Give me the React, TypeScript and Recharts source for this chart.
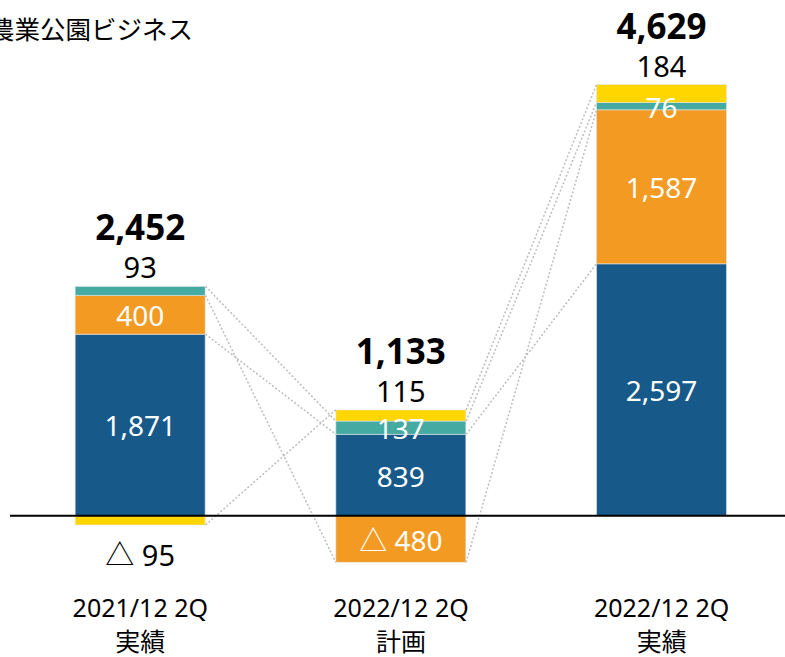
import { ComposedChart, Bar, XAxis, YAxis, ReferenceLine, LabelList } from "recharts";

const FONT = "'Noto Sans', 'Noto Sans CJK JP', sans-serif";

const title = "農業公園ビジネス";
const periods = ["2021/12 2Q", "2022/12 2Q", "2022/12 2Q"];
const periodKinds = ["実績", "計画", "実績"];

// stacked segments, bottom to top
const blueValues = [1871, 839, 2597];
const orangeValues = [400, -480, 1587];
const tealValues = [93, 137, 76];
const yellowValues = [-95, 115, 184];
const totals = [2452, 1133, 4629];

const seriesKeys = ["blue", "orange", "teal", "yellow"];
const seriesValues = [blueValues, orangeValues, tealValues, yellowValues];
const seriesColors = ["#175a8a", "#f29a22", "#45aaa2", "#ffd600"];

const GAP = 0.25; // barCategoryGap as fraction of the band

const data = periods.map((p, i) => {
  const row: Record<string, any> = { period: p, pos: i + 0.5 };
  seriesKeys.forEach((k, s) => (row[k] = seriesValues[s][i]));
  return row;
});

const fmt = (v: number) =>
  v < 0 ? "△ " + Math.abs(v).toLocaleString("en-US") : v.toLocaleString("en-US");

// outer edge of a segment in the sign-stacked bar
function edgeOf(s: number, i: number) {
  const v = seriesValues[s][i];
  let sum = 0;
  for (let k = 0; k <= s; k++) {
    const w = seriesValues[k][i];
    if (w >= 0 === v >= 0) sum += w;
  }
  return sum;
}

function isOutermost(s: number, i: number) {
  const v = seriesValues[s][i];
  for (let k = s + 1; k < seriesValues.length; k++) {
    const w = seriesValues[k][i];
    if (w !== 0 && w >= 0 === v >= 0) return false;
  }
  return true;
}

const connectors: { x1: number; y1: number; x2: number; y2: number }[] = [];
for (let i = 0; i < periods.length - 1; i++) {
  for (let s = 0; s < seriesValues.length; s++) {
    connectors.push({ x1: i + 1 - GAP, y1: edgeOf(s, i), x2: i + 1 + GAP, y2: edgeOf(s, i + 1) });
  }
}

function makeLabel(s: number) {
  return (props: any) => {
    const vb = props.viewBox ?? {};
    const x = Number(vb.x ?? props.x);
    const y = Number(vb.y ?? props.y);
    const w = Number(vb.width ?? props.width);
    const h = Number(vb.height ?? props.height);
    const i = props.index;
    const v = seriesValues[s][i];
    const top = Math.min(y, y + h);
    const bottom = Math.max(y, y + h);
    const cx = x + w / 2;
    const small = Math.abs(h) < 20;
    if (small && isOutermost(s, i) && v > 0) {
      return (
        <g>
          <text x={cx} y={top - 8} textAnchor="middle" fontSize={29} fill="#000" fontFamily={FONT}>
            {fmt(v)}
          </text>
          <text x={cx} y={top - 46} textAnchor="middle" fontSize={35} fontWeight="bold" fill="#000" fontFamily={FONT}>
            {fmt(totals[i])}
          </text>
        </g>
      );
    }
    if (small && isOutermost(s, i) && v < 0) {
      return (
        <text x={cx} y={bottom + 41} textAnchor="middle" fontSize={29} fill="#000" fontFamily={FONT}>
          {fmt(v)}
        </text>
      );
    }
    return (
      <text x={cx} y={(top + bottom) / 2 + 11.5} textAnchor="middle" fontSize={28} fill="#fff" fontFamily={FONT}>
        {fmt(v)}
      </text>
    );
  };
}

const PeriodTick = (props: any) => {
  const { x, y, payload } = props;
  const i = payload.index;
  return (
    <g>
      <text x={x} y={y + 43} textAnchor="middle" fontSize={25} fill="#000" fontFamily={FONT}>
        {periods[i]}
      </text>
      <text x={x} y={y + 77} textAnchor="middle" fontSize={25} fill="#000" fontFamily={FONT}>
        {periodKinds[i]}
      </text>
    </g>
  );
};

export default function App() {
  return (
    <div style={{ position: "relative", width: 785, height: 657, overflow: "hidden", fontFamily: FONT }}>
      <style>{"body{margin:0;overflow:hidden}"}</style>
      <div
        style={{
          position: "absolute",
          left: -11,
          top: 15,
          fontSize: 25.5,
          lineHeight: "25px",
          whiteSpace: "nowrap",
          fontFamily: "'Noto Sans CJK JP', sans-serif",
          color: "#000",
        }}
      >
        {title}
      </div>
      <ComposedChart
        width={800}
        height={657}
        data={data}
        stackOffset="sign"
        barCategoryGap="25%"
        margin={{ top: 50, right: 8, bottom: 23, left: 10 }}
      >
        <XAxis
          dataKey="period"
          axisLine={false}
          tickLine={false}
          tickSize={0}
          tickMargin={0}
          height={60}
          interval={0}
          tick={<PeriodTick />}
        />
        <XAxis
          xAxisId="num"
          dataKey="pos"
          type="number"
          domain={[0, periods.length]}
          allowDataOverflow
          hide
        />
        <YAxis hide domain={[-600, 4800]} allowDataOverflow />
        {connectors.map((c, k) => (
          <ReferenceLine
            key={k}
            xAxisId="num"
            segment={[
              { x: c.x1, y: c.y1 },
              { x: c.x2, y: c.y2 },
            ]}
            stroke="#bdbdbd"
            strokeWidth={1.5}
            strokeDasharray="2 2"
            ifOverflow="visible"
          />
        ))}
        {seriesKeys.map((k, s) => (
          <Bar
            key={k}
            dataKey={k}
            stackId="a"
            fill={seriesColors[s]}
            stroke="#e6e6e6"
            strokeWidth={0.6}
            isAnimationActive={false}
          >
            <LabelList dataKey={k} content={makeLabel(s)} />
          </Bar>
        ))}
        <ReferenceLine y={0} stroke="#000" strokeWidth={2} />
      </ComposedChart>
    </div>
  );
}
